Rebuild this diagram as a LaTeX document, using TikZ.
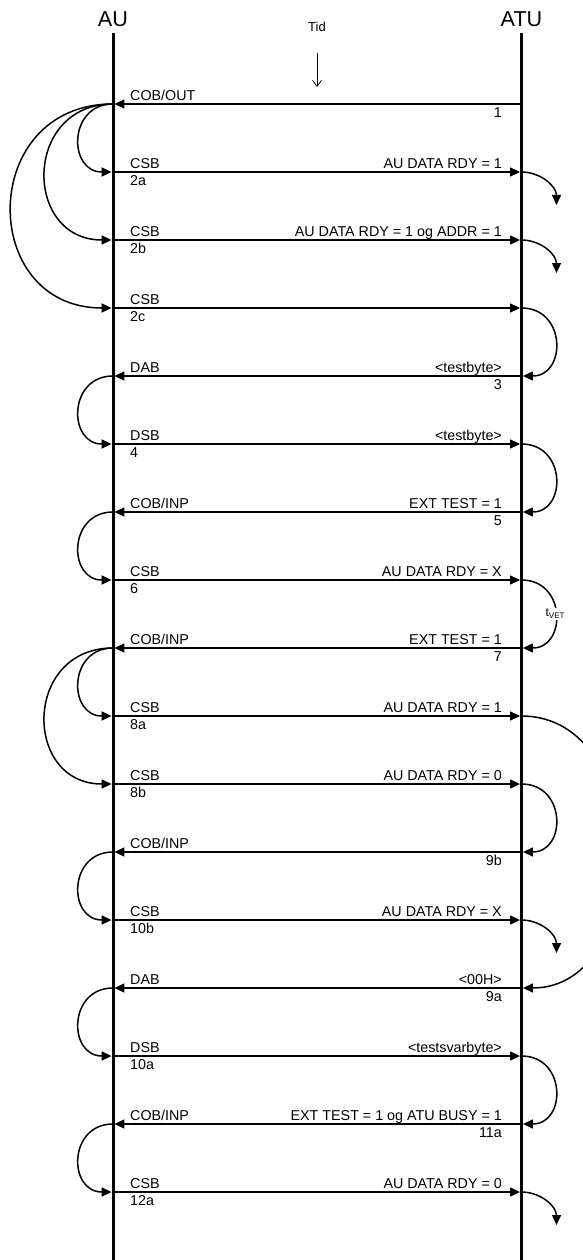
\documentclass[tikz,border=0pt]{standalone}
\usepackage{fontspec}
\setmainfont{Liberation Sans}
\usetikzlibrary{arrows.meta}
\tikzset{
  lifeline/.style={line width=3pt,black},
  msgline/.style={line width=1.6pt,-{Triangle[length=10pt,width=9pt]},shorten >=1.4pt},
  hopline/.style={line width=1.5pt,-{Triangle[length=10pt,width=9pt]},shorten >=1.4pt},
  dropline/.style={line width=1.5pt,-{Triangle[length=10pt,width=9pt]}},
  siglabel/.style={inner sep=0pt,font=\fontsize{14.3}{16}\selectfont},
  unitlabel/.style={inner sep=0pt,font=\fontsize{21.6}{24}\selectfont},
  tvetnode/.style={fill=white,inner sep=1.5pt,font=\fontsize{12}{14}\selectfont}
}

\begin{document}
\begin{tikzpicture}[x=1pt,y=-1pt]
  \useasboundingbox (0,0) rectangle (582,1260);

  % the two units and their lifelines
  \node[unitlabel,anchor=base] (AU) at (113,27) {AU};
  \node[unitlabel,anchor=base] (ATU) at (521.5,27) {ATU};
  \coordinate (au-top) at (113,33);
  \coordinate (au-bot) at (113,1262);
  \coordinate (atu-top) at (521.5,33);
  \coordinate (atu-bot) at (521.5,1262);
  \draw[lifeline] (au-top) -- (au-bot);
  \draw[lifeline] (atu-top) -- (atu-bot);

  % time direction
  \node[inner sep=0pt,font=\fontsize{13}{15}\selectfont,anchor=base] (tid) at (317,32) {Tid};
  \coordinate (tid-a) at (317,53);
  \coordinate (tid-b) at (317,87);
  \draw[line width=0.8pt,-{Straight Barb[length=6pt,width=9pt]}] (tid-a) -- (tid-b);

  % ATU -> AU
  \foreach \n/\y/\sig in {1/104/{COB/OUT},3/376/DAB,5/512/{COB/INP},7/648/{COB/INP},
      9b/852/{COB/INP},9a/988/DAB,11a/1124/{COB/INP}} {
    \coordinate (au-\n) at (113,\y);
    \coordinate (atu-\n) at (521.5,\y);
    \draw[msgline] (atu-\n) -- (au-\n);
    \node[siglabel,anchor=base west] (sig-\n) at ([xshift=17pt,yshift=3.5pt]au-\n) {\sig};
    \node[siglabel,anchor=north east] (num-\n) at ([xshift=-19.5pt,yshift=-3.3pt]atu-\n) {\n};
  }

  % AU -> ATU
  \foreach \n/\y/\sig in {2a/172/CSB,2b/240/CSB,2c/308/CSB,4/444/DSB,6/580/CSB,
      8a/716/CSB,8b/784/CSB,10b/920/CSB,10a/1056/DSB,12a/1192/CSB} {
    \coordinate (au-\n) at (113,\y);
    \coordinate (atu-\n) at (521.5,\y);
    \draw[msgline] (au-\n) -- (atu-\n);
    \node[siglabel,anchor=base west] (sig-\n) at ([xshift=17pt,yshift=3.5pt]au-\n) {\sig};
    \node[siglabel,anchor=north west] (num-\n) at ([xshift=17pt,yshift=-3.3pt]au-\n) {\n};
  }

  % contents
  \foreach \n/\val in {2a/{AU DATA RDY = 1},2b/{AU DATA RDY = 1 og ADDR = 1},
      3/{<testbyte>},4/{<testbyte>},5/{EXT TEST = 1},6/{AU DATA RDY = X},
      7/{EXT TEST = 1},8a/{AU DATA RDY = 1},8b/{AU DATA RDY = 0},
      10b/{AU DATA RDY = X},9a/{<00H>},10a/{<testsvarbyte>},
      11a/{EXT TEST = 1 og ATU BUSY = 1},12a/{AU DATA RDY = 0}}
    \node[siglabel,anchor=base east] (val-\n) at ([xshift=-19.5pt,yshift=3.5pt]atu-\n) {\val};

  % AU side sequencing
  \foreach \a/\b in {1/2a,1/2b,1/2c,3/4,5/6,7/8a,7/8b,9b/10b,9a/10a,11a/12a}
    \draw[hopline] (au-\a) to[out=180,in=180,looseness=1.7] (au-\b);

  % ATU side sequencing
  \foreach \a/\b in {2c/3,4/5,8b/9b,10a/11a}
    \draw[hopline] (atu-\a) to[out=0,in=0,looseness=1.7] (atu-\b);
  \draw[hopline] (atu-6) to[out=0,in=0,looseness=1.7]
    node[tvetnode] (tvet) {t\textsubscript{VET}} (atu-7);
  \draw[hopline] (atu-8a) to[out=0,in=0,looseness=1.24] (atu-9a);
  \foreach \a in {2a,2b,10b,12a} {
    \coordinate (drop-\a) at ([xshift=35pt,yshift=-33pt]atu-\a);
    \draw[dropline] (atu-\a) to[out=0,in=90] (drop-\a);
  }
\end{tikzpicture}
\end{document}
